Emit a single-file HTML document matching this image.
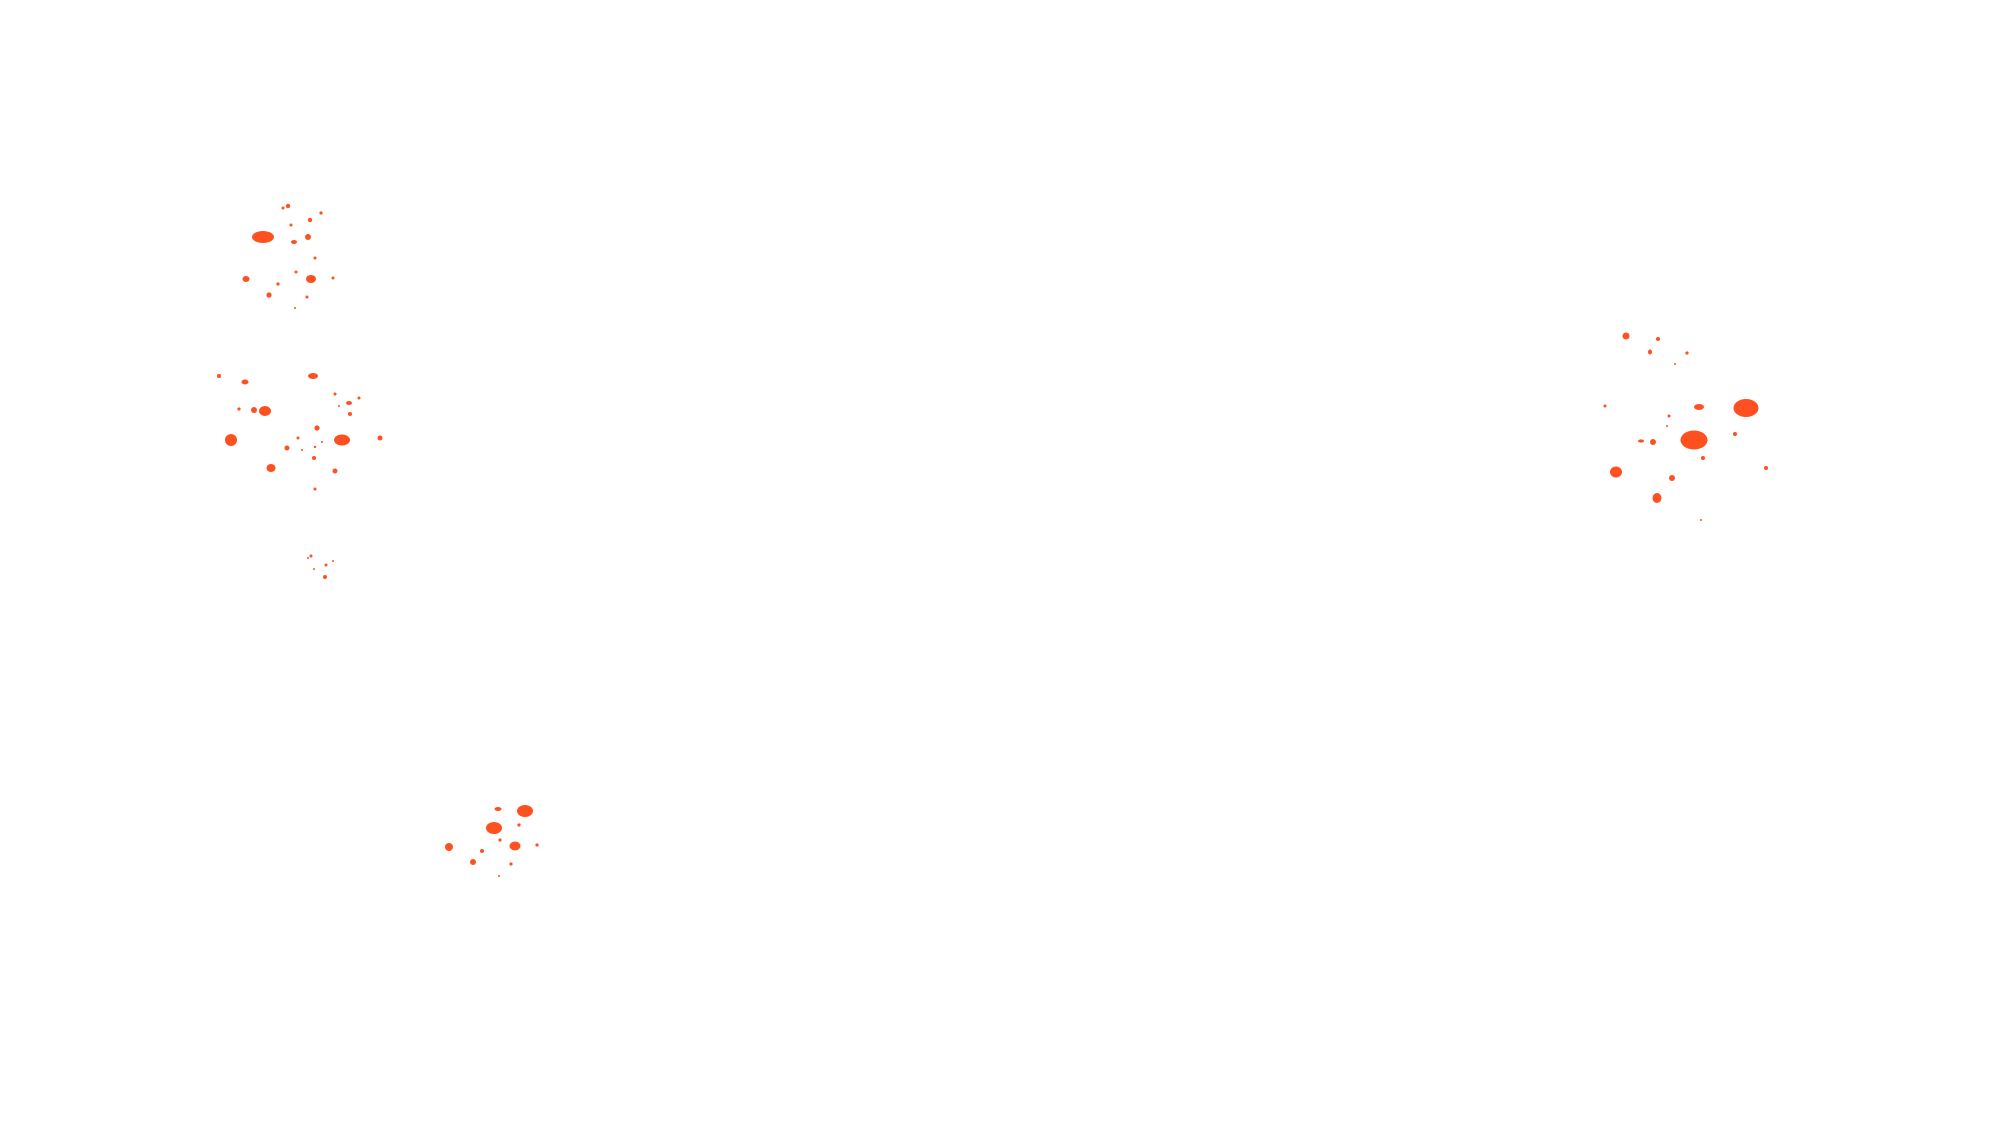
<!DOCTYPE html>
<html><head><meta charset="utf-8"><style>html,body{margin:0;padding:0;background:#fff;width:2000px;height:1125px;overflow:hidden}</style></head>
<body>
<svg width="2000" height="1125" viewBox="0 0 2000 1125" xmlns="http://www.w3.org/2000/svg">
<g fill="#ff5020">
<circle cx="288" cy="206" r="2.2"/><circle cx="283" cy="208" r="1.5"/><circle cx="321" cy="213" r="1.6"/><circle cx="310" cy="220" r="2.2"/><circle cx="291" cy="225" r="1.5"/>
<ellipse cx="263" cy="237" rx="11" ry="6"/><circle cx="308" cy="237" r="3"/><ellipse cx="294" cy="242" rx="3" ry="2"/><circle cx="315" cy="258" r="1.5"/><circle cx="296" cy="272" r="1.5"/>
<ellipse cx="246" cy="279" rx="3.5" ry="3"/><ellipse cx="311" cy="279" rx="5" ry="4"/><circle cx="333" cy="278" r="1.5"/><circle cx="278" cy="284" r="1.6"/><circle cx="269" cy="295" r="2.6"/><circle cx="307" cy="297" r="1.5"/><circle cx="295" cy="308" r="1"/>
<circle cx="219" cy="376" r="2"/><ellipse cx="245" cy="382" rx="3.5" ry="2.5"/><ellipse cx="313" cy="376" rx="5" ry="3"/><circle cx="335" cy="394" r="1.5"/><circle cx="359" cy="398" r="1.5"/><ellipse cx="349" cy="403" rx="3" ry="2"/><circle cx="339" cy="406" r="1"/>
<circle cx="239" cy="409" r="1.6"/><circle cx="254" cy="410" r="3"/><ellipse cx="265" cy="411" rx="6" ry="5"/><circle cx="350" cy="414" r="2"/><circle cx="317" cy="428" r="2.6"/>
<circle cx="231" cy="440" r="6"/><ellipse cx="342" cy="440" rx="8" ry="5.5"/><circle cx="380" cy="438" r="2.5"/><circle cx="298" cy="438" r="1.5"/><circle cx="322" cy="442" r="1"/><circle cx="287" cy="448" r="2.5"/><circle cx="315" cy="447" r="1.2"/><circle cx="302" cy="450" r="1"/><circle cx="314" cy="458" r="2"/><ellipse cx="271" cy="468" rx="4.5" ry="4"/><circle cx="335" cy="471" r="2.5"/><circle cx="315" cy="489" r="1.5"/>
<circle cx="311" cy="556" r="1.5"/><circle cx="308" cy="558" r="1"/><circle cx="333" cy="561" r="1"/><circle cx="326" cy="565" r="1.5"/><circle cx="314" cy="569" r="1"/><circle cx="325" cy="577" r="2"/>
<circle cx="1626" cy="336" r="3.5"/><circle cx="1658" cy="339" r="2"/><ellipse cx="1650" cy="352" rx="2" ry="2.5"/><circle cx="1687" cy="353" r="1.6"/><circle cx="1675" cy="364" r="1"/>
<circle cx="1605" cy="406" r="1.5"/><ellipse cx="1699" cy="407" rx="5" ry="3"/><ellipse cx="1746" cy="408" rx="12.5" ry="9"/><circle cx="1669" cy="416" r="1.5"/><circle cx="1667" cy="426" r="1"/><circle cx="1735" cy="434" r="2"/>
<ellipse cx="1694" cy="440" rx="13.5" ry="9.5"/><ellipse cx="1641" cy="441" rx="3" ry="1.6"/><circle cx="1653" cy="442" r="3"/><circle cx="1703" cy="458" r="2"/><circle cx="1766" cy="468" r="2"/><ellipse cx="1616" cy="472" rx="6" ry="5.5"/><circle cx="1672" cy="478" r="3"/><ellipse cx="1657" cy="498" rx="4.5" ry="5"/><circle cx="1701" cy="520" r="1"/>
<ellipse cx="498" cy="809" rx="3.5" ry="2"/><ellipse cx="525" cy="811" rx="8" ry="6"/><circle cx="519" cy="825" r="1.6"/><ellipse cx="494" cy="828" rx="8" ry="6"/><circle cx="500" cy="840" r="1.6"/><circle cx="449" cy="847" r="4"/><ellipse cx="515" cy="846" rx="5.5" ry="4.5"/><circle cx="537" cy="845" r="1.6"/><circle cx="482" cy="851" r="2"/><circle cx="473" cy="862" r="3"/><circle cx="511" cy="864" r="1.6"/><circle cx="499" cy="876" r="1"/>
</g>
</svg>
</body></html>
